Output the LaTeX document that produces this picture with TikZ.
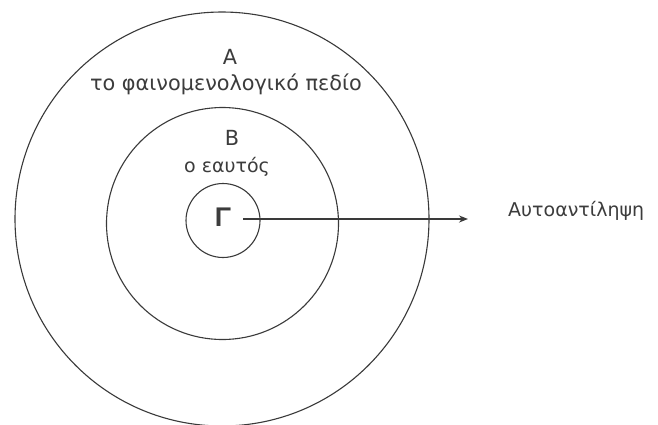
\documentclass[tikz,border=0pt]{standalone}
\usepackage{fontspec}
\setmainfont{DejaVu Sans}
\newfontfamily\gammafont{Liberation Sans}
\usetikzlibrary{arrows.meta}
\definecolor{linegray}{HTML}{3A3A3A}
\definecolor{textgray}{HTML}{3C3C3C}
\tikzset{
  ring/.style={circle, draw=linegray, line width=1.1pt, inner sep=0pt, minimum size=#1},
  lbl/.style={text=textgray, inner sep=0pt, font=\fontsize{19}{22}\selectfont},
  biglbl/.style={text=textgray, inner sep=0pt, font=\fontsize{20.8}{25}\selectfont},
  conn/.style={draw=linegray, line width=1.4pt, -{Stealth[length=9pt,width=7pt]}}
}
\begin{document}
\begin{tikzpicture}[x=1pt,y=-1pt]
\useasboundingbox (0,0) rectangle (658,424);
\clip (0,0) rectangle (658,424);
\fill[white] (0,0) rectangle (658,424);
\node[ring=414pt] (outer) at (222,219) {};
\node[ring=232pt] (middle) at (222.5,223.5) {};
\node[ring=74pt] (inner) at (223,220.5) {};
\node[biglbl] (a) at (230,57) {A};
\node[biglbl] (afield) at (226,84) {το φαινομενολογικό πεδίο};
\node[biglbl] (b) at (232,138) {B};
\node[lbl] (bself) at (227,167) {ο εαυτός};
\node[text=textgray, inner sep=0pt, font=\gammafont\bfseries\fontsize{27}{30}\selectfont] (gamma) at (223,217.5) {Γ};
\node[lbl, anchor=base west] (self) at (508,216) {Αυτοαντίληψη};
\coordinate (start) at (243,219);
\coordinate (tip) at (468,219);
\draw[conn] (start) -- (tip);
\end{tikzpicture}
\end{document}
